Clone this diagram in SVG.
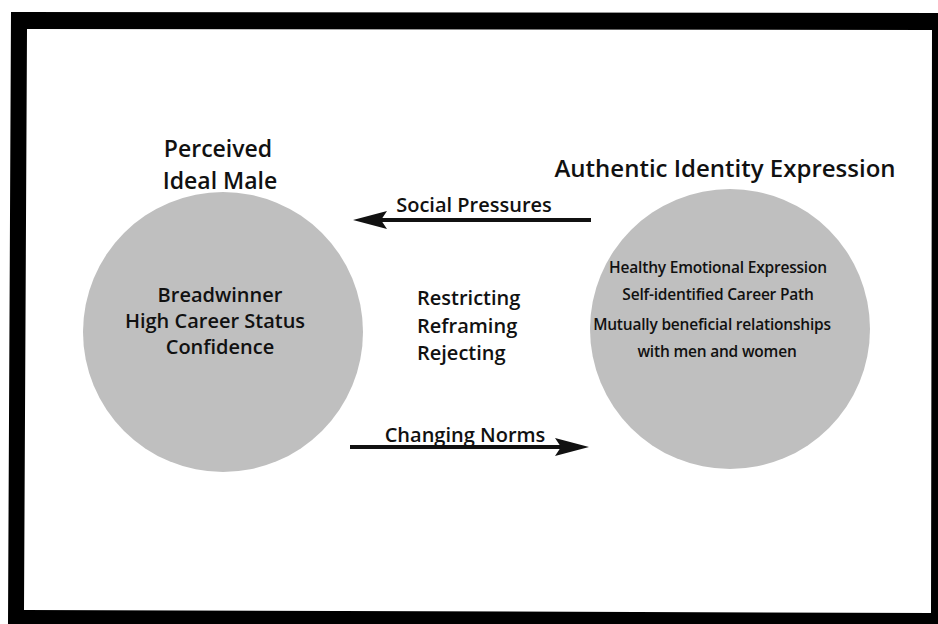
<svg xmlns="http://www.w3.org/2000/svg" width="938" height="624" viewBox="0 0 938 624">
  <style>
    .hdr { font-family: "Open Sans", "Noto Sans", sans-serif; font-weight: 600; font-size: 24px; fill: #111; text-anchor: middle; }
    .hdr2 { font-family: "Open Sans", "Noto Sans", sans-serif; font-weight: 600; font-size: 23px; fill: #111; text-anchor: middle; }
    .lbl { font-family: "Open Sans", "Noto Sans", sans-serif; font-weight: 600; font-size: 20px; fill: #111; }
    .body { font-family: "Open Sans", "Noto Sans", sans-serif; font-weight: 600; font-size: 20px; fill: #111; text-anchor: middle; }
    .small { font-family: "Open Sans", "Noto Sans", sans-serif; font-weight: 600; font-size: 15.5px; fill: #111; text-anchor: middle; letter-spacing: -0.2px; }
    .disc { fill: #bfbfbf; }
    .conn { stroke: #111; stroke-width: 4; fill: none; }
  </style>
  <defs>
    <marker id="head" viewBox="0 0 34 18" refX="26" refY="9" markerWidth="34" markerHeight="18" markerUnits="userSpaceOnUse" orient="auto">
      <path d="M0,0 L34,9 L0,18 L6,9 Z" fill="#111"/>
    </marker>
  </defs>

  <!-- page and heavy black frame -->
  <rect x="0" y="0" width="938" height="624" fill="#ffffff"/>
  <path d="M11,12 L938,13 L938,624 L8,624 Z M27,29 L24,610 L931,613 L932,30 Z" fill="#000" fill-rule="evenodd"/>

  <g id="ideal-male">
    <text class="hdr2" x="218" y="157">Perceived</text>
    <text class="hdr2" x="220" y="189">Ideal Male</text>
    <circle class="disc" cx="223" cy="332" r="140"/>
    <text class="body" x="220" y="302">Breadwinner</text>
    <text class="body" x="215" y="328">High Career Status</text>
    <text class="body" x="220" y="354">Confidence</text>
  </g>

  <g id="strategies">
    <text class="lbl" x="417" y="305">Restricting</text>
    <text class="lbl" x="417" y="333">Reframing</text>
    <text class="lbl" x="417" y="360">Rejecting</text>
  </g>

  <g id="authentic-identity">
    <text class="hdr" x="725" y="177">Authentic Identity Expression</text>
    <circle class="disc" cx="730" cy="329" r="140"/>
    <text class="small" x="718" y="273">Healthy Emotional Expression</text>
    <text class="small" x="718" y="300">Self-identified Career Path</text>
    <text class="small" x="712" y="330">Mutually beneficial relationships</text>
    <text class="small" x="717" y="357">with men and women</text>
  </g>

  <g id="connectors">
    <line class="conn" x1="591" y1="220" x2="361" y2="220" marker-end="url(#head)"/>
    <text class="lbl" x="474" y="212" text-anchor="middle">Social Pressures</text>
    <line class="conn" x1="350" y1="447" x2="581" y2="447" marker-end="url(#head)"/>
    <text class="lbl" x="465" y="442" text-anchor="middle">Changing Norms</text>
  </g>
</svg>
